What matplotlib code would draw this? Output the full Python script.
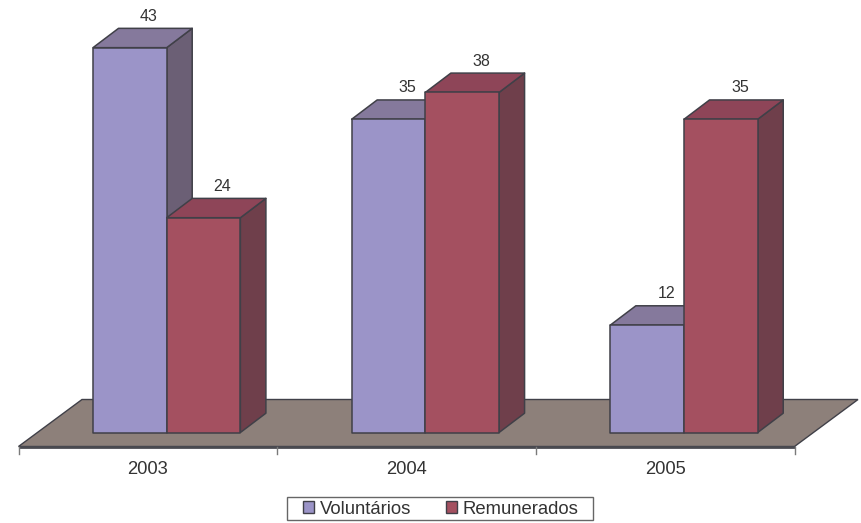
import matplotlib
matplotlib.use("Agg")
import matplotlib.pyplot as plt
from matplotlib.patches import Polygon, Patch, Rectangle

plt.rcParams['font.family'] = ['Liberation Sans', 'DejaVu Sans']

years = ['2003', '2004', '2005']
voluntarios = [43, 35, 12]
remunerados = [24, 38, 35]
series_names = ['Voluntários', 'Remunerados']

W, H = 861, 523
FRONT = ['#9B94C8', '#A45060']
TOP = ['#85799C', '#8E4558']
SIDE = ['#6B5F75', '#6F3F4B']
FLOOR = '#8D807A'
EDGE = '#404048'
TEXT = '#333333'

# scales: one category = 258.5 px, one unit = 8.95 px
cat_px = (794.5 - 18.5) / 3
unit_px = 8.95
x0_px, y0_px = 18.5, 432.5

fig = plt.figure(figsize=(W / 100, H / 100), dpi=100)
ax = fig.add_axes([0, 0, 1, 1])
ax.set_xlim(-x0_px / cat_px, (W - x0_px) / cat_px)
ax.set_ylim(-(H - y0_px) / unit_px, y0_px / unit_px)
ax.axis('off')

bar_w = 73.7 / cat_px
gap = 74.5 / cat_px
dx = 25.5 / cat_px
dy = 19.3 / unit_px
floor_dx = 63.5 / cat_px
floor_top = 33 / unit_px
front_drop = 14 / unit_px


def bar3d(x, v, i):
    kw = dict(edgecolor=EDGE, linewidth=1.1, joinstyle='round')
    ax.add_patch(Polygon([(x + bar_w, 0), (x + bar_w + dx, dy), (x + bar_w + dx, v + dy), (x + bar_w, v)],
                         facecolor=SIDE[i], **kw))
    ax.add_patch(Polygon([(x, v), (x + dx, v + dy), (x + bar_w + dx, v + dy), (x + bar_w, v)],
                         facecolor=TOP[i], **kw))
    ax.add_patch(Polygon([(x, 0), (x, v), (x + bar_w, v), (x + bar_w, 0)],
                         facecolor=FRONT[i], **kw))
    ax.text(x + bar_w / 2 + 19 / cat_px, v + dy + 4.5 / unit_px, str(v), ha='center', va='bottom',
            fontsize=11.5, color=TEXT)


# floor
n = len(years)
ax.add_patch(Polygon([(0, -front_drop), (n, -front_drop), (n + floor_dx, floor_top),
                      (floor_dx, floor_top)], facecolor=FLOOR, edgecolor=EDGE, linewidth=1.0))
ax.plot([0, n], [-front_drop, -front_drop], color='#4A4A50', linewidth=2, solid_capstyle='butt')

# category ticks
for k in range(n + 1):
    ax.plot([k, k], [-front_drop, -front_drop - 7 / unit_px], color='#7A7A7A', linewidth=1)

for k, year in enumerate(years):
    x = k + gap
    bar3d(x, voluntarios[k], 0)
    bar3d(x + bar_w, remunerados[k], 1)
    ax.text(k + 0.5, -(469.5 - y0_px) / unit_px, year, ha='center', va='center',
            fontsize=13.2, color=TEXT)

# legend frame and entries
fig.add_artist(Rectangle((287 / W, 1 - 520 / H), 306 / W, 23 / H, transform=fig.transFigure,
                         facecolor='white', edgecolor='#666666', linewidth=1, zorder=5))
handles = [Patch(facecolor=FRONT[i], edgecolor=EDGE, linewidth=1, label=series_names[i]) for i in range(2)]
leg = fig.legend(handles=handles, ncol=2, loc='center', bbox_to_anchor=(441 / W, 1 - 509 / H),
                 bbox_transform=fig.transFigure, frameon=False, fontsize=13.3,
                 handlelength=0.6, handleheight=0.6, handletextpad=0.33, columnspacing=1.84,
                 borderpad=0, borderaxespad=0, labelcolor=TEXT)
leg.set_zorder(6)

fig.savefig('out.png', dpi=100)
